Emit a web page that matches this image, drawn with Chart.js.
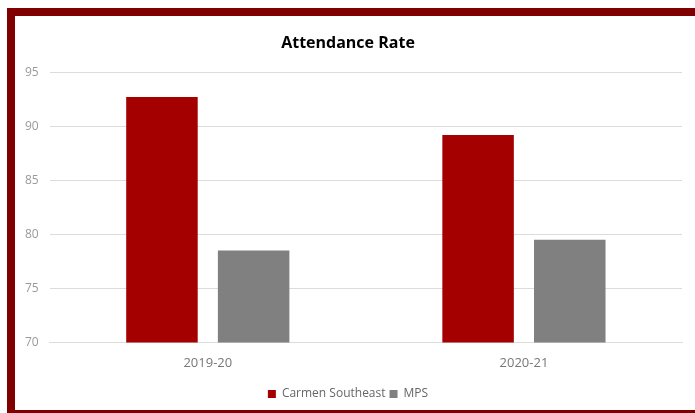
<!DOCTYPE html>
<html>
<head>
<meta charset="utf-8">
<script src="https://cdn.jsdelivr.net/npm/chart.js@4"></script>
<style>
  html, body { margin: 0; padding: 0; background: #fff; width: 695px; height: 413px; overflow: hidden; }
  #frame {
    position: absolute; left: 7px; top: 8px; width: 700px; height: 394px;
    border: 8px solid #800000; background: #fff;
  }
  #graficoPresenca { position: absolute; left: 8px; top: 16px; }
</style>
</head>
<body>
<div id="frame"></div>
<canvas id="graficoPresenca" width="687" height="406"></canvas>
<script>
// Dados do gráfico
const anos = ['2019-20', '2020-21'];
const carmenSoutheast = [92.7, 89.2];
const mps = [78.5, 79.5];

const fonte = "'Open Sans', 'Liberation Sans', sans-serif";

const ctx = document.getElementById('graficoPresenca').getContext('2d');
const grafico = new Chart(ctx, {
    type: 'bar',
    data: {
        labels: anos,
        datasets: [{
            label: 'Carmen Southeast',
            data: carmenSoutheast,
            backgroundColor: '#a50000',
            categoryPercentage: 0.58,
            barPercentage: 0.78
        }, {
            label: 'MPS',
            data: mps,
            backgroundColor: '#808080',
            categoryPercentage: 0.58,
            barPercentage: 0.78
        }]
    },
    options: {
        responsive: false,
        animation: false,
        devicePixelRatio: 1,
        layout: {
            padding: { left: 6, right: 13, top: 6, bottom: 12 }
        },
        plugins: {
            title: {
                display: true,
                text: 'Attendance Rate',
                color: '#000',
                font: { family: fonte, size: 16, weight: 'bold' },
                padding: { top: 12, bottom: 19 }
            },
            legend: {
                position: 'bottom',
                labels: {
                    boxWidth: 8,
                    boxHeight: 8,
                    color: '#666',
                    font: { family: fonte, size: 12 },
                    padding: 4
                }
            },
            tooltip: { enabled: false }
        },
        scales: {
            y: {
                min: 70,
                max: 95,
                ticks: {
                    stepSize: 5,
                    color: '#9a9a9a',
                    font: { family: fonte, size: 12 },
                    padding: 11
                },
                grid: { color: '#dcdcdc', drawTicks: false },
                border: { display: false }
            },
            x: {
                ticks: {
                    color: '#777',
                    font: { family: fonte, size: 13 },
                    padding: 13
                },
                grid: { display: false, drawTicks: false },
                border: { color: '#dcdcdc' }
            }
        }
    }
});
</script>
</body>
</html>
